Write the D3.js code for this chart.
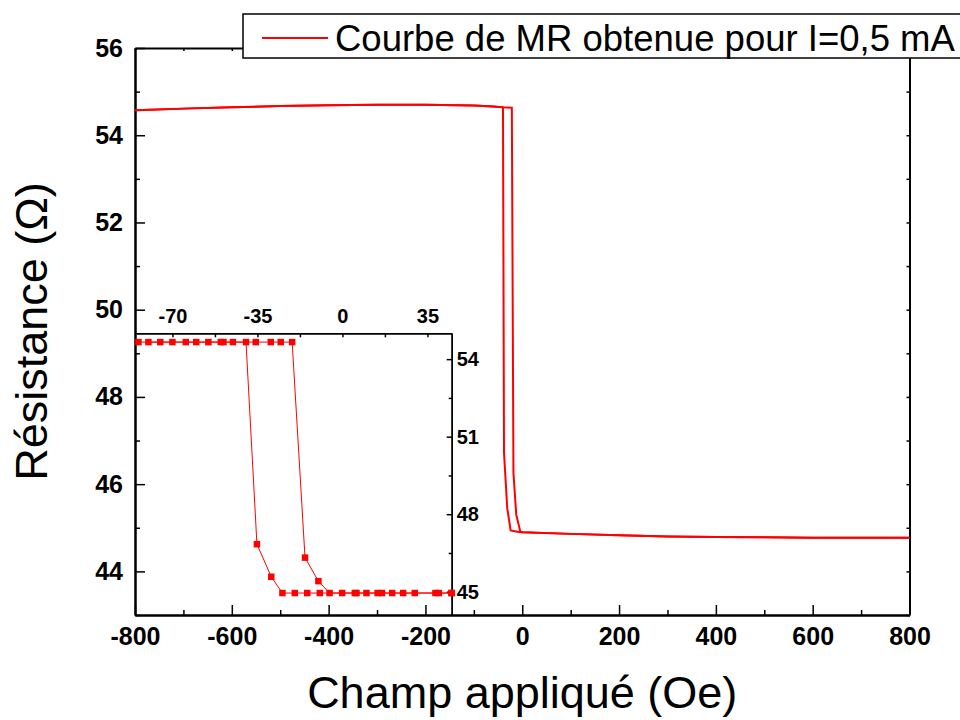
<!DOCTYPE html>
<html>
<head>
<meta charset="utf-8">
<script src="https://cdn.jsdelivr.net/npm/d3@7"></script>
<style>
  body { margin: 0; background: #fff; }
  svg { font-family: "Liberation Sans", Arial, sans-serif; }
</style>
</head>
<body>
<div id="chart"></div>
<script>
// ---- data ----
// main loop, branch that switches near -40 Oe
const fieldA = [-800, -700, -600, -500, -400, -300, -200, -100, -60, -39.8, -37.7, -31, -24, -10, 0, 100, 200, 300, 400, 500, 600, 700, 800];
const resA   = [54.57, 54.61, 54.64, 54.67, 54.69, 54.70, 54.70, 54.68, 54.66, 54.64, 46.72, 45.45, 44.94, 44.91, 44.90, 44.86, 44.83, 44.80, 44.79, 44.78, 44.77, 44.77, 44.77];
// main loop, branch that switches near -21 Oe
const fieldB = [-800, -700, -600, -500, -400, -300, -200, -100, -60, -40, -21.5, -18.2, -12.4, -4, 0, 100, 200, 300, 400, 500, 600, 700, 800];
const resB   = [54.57, 54.61, 54.64, 54.67, 54.69, 54.70, 54.70, 54.68, 54.66, 54.64, 54.63, 46.26, 45.30, 44.91, 44.90, 44.86, 44.83, 44.80, 44.79, 44.78, 44.77, 44.77, 44.77];

// inset (zoom on the switching), measured points
const insetFieldA = [-84, -75, -64.5, -55.2, -45.1, -39.7, -35.2, -29.3, -24.7, -19.6, -14.5, -9.3, -0.1, 9.9, 20.5, 29.8, 39.7, 45];
const insetResA   = [54.66, 54.66, 54.66, 54.66, 54.66, 54.66, 46.84, 45.58, 44.95, 44.95, 44.95, 44.95, 44.95, 44.95, 44.95, 44.95, 44.95, 44.95];
const insetFieldB = [-79.9, -70, -60.2, -50.1, -49, -35.7, -29.5, -25.4, -20.7, -15.4, -9.9, -5.3, 5.1, 5.8, 14.5, 16.3, 25, 38.3, 44.9];
const insetResB   = [54.66, 54.66, 54.66, 54.66, 54.66, 54.66, 54.66, 54.66, 54.66, 46.32, 45.41, 44.95, 44.95, 44.95, 44.95, 44.95, 44.95, 44.95, 44.95];

// ticks
const xMajor = [-800, -600, -400, -200, 0, 200, 400, 600, 800];
const xMinor = [-700, -500, -300, -100, 100, 300, 500, 700];
const yMajor = [44, 46, 48, 50, 52, 54, 56];
const yMinor = [43, 45, 47, 49, 51, 53, 55];
const insetXMajor = [-70, -35, 0, 35];
const insetXMinor = [-52.5, -17.5, 17.5];
const insetYMajor = [45, 48, 51, 54];
const insetYMinor = [46.5, 49.5, 52.5];

const legendLabel = "Courbe de MR obtenue pour I=0,5 mA";
const xTitle = "Champ appliqué (Oe)";
const yTitle = "Résistance (Ω)";

// ---- layout ----
const W = 960, H = 720;
const plot = {left: 135, right: 909.5, top: 48, bottom: 615};
const inset = {left: 136, right: 451.7, top: 333.3, bottom: 615};
const red = "#ff0000";

const svg = d3.select("#chart").append("svg")
    .attr("width", W)
    .attr("height", H);

const x = d3.scaleLinear().domain([-800, 800]).range([plot.left, plot.right]);
const y = d3.scaleLinear().domain([43, 56]).range([plot.bottom, plot.top]);

function styleAxis(g, w, fs) {
    g.select(".domain").attr("stroke-width", w);
    g.selectAll(".tick line").attr("stroke-width", 1.5);
    g.selectAll(".tick text")
        .attr("font-size", fs)
        .attr("font-weight", "bold")
        .attr("font-family", "Liberation Sans, Arial, sans-serif")
        .attr("fill", "#000");
}

// bottom axis (minor then major)
svg.append("g")
    .attr("transform", `translate(0,${plot.bottom})`)
    .call(d3.axisBottom(x).tickValues(xMinor).tickSize(-5).tickSizeOuter(0).tickFormat(""))
    .call(g => styleAxis(g, 2, 25));
svg.append("g")
    .attr("transform", `translate(0,${plot.bottom})`)
    .call(d3.axisBottom(x).tickValues(xMajor).tickSize(-10).tickSizeOuter(0).tickPadding(12).tickFormat(d => String(d)))
    .call(g => styleAxis(g, 2, 25));

// left axis
svg.append("g")
    .attr("transform", `translate(${plot.left},0)`)
    .call(d3.axisLeft(y).tickValues(yMinor).tickSize(-5).tickSizeOuter(0).tickFormat(""))
    .call(g => styleAxis(g, 2, 25));
svg.append("g")
    .attr("transform", `translate(${plot.left},0)`)
    .call(d3.axisLeft(y).tickValues(yMajor).tickSize(-10).tickSizeOuter(0).tickPadding(12).tickFormat(d => String(d)))
    .call(g => styleAxis(g, 2, 25));

// top and right mirror axes, small ticks, no labels
svg.append("g")
    .attr("transform", `translate(0,${plot.top})`)
    .call(d3.axisTop(x).tickValues(xMajor.concat(xMinor)).tickSize(-3).tickSizeOuter(0).tickFormat(""))
    .call(g => styleAxis(g, 2, 25));
svg.append("g")
    .attr("transform", `translate(${plot.right},0)`)
    .call(d3.axisRight(y).tickValues(yMajor.concat(yMinor)).tickSize(-3).tickSizeOuter(0).tickFormat(""))
    .call(g => styleAxis(g, 2, 25));

// main curve
const line = d3.line().x(d => x(d[0])).y(d => y(d[1]));
svg.append("path")
    .datum(d3.zip(fieldA, resA))
    .attr("fill", "none")
    .attr("stroke", red)
    .attr("stroke-width", 2)
    .attr("d", line);
svg.append("path")
    .datum(d3.zip(fieldB, resB))
    .attr("fill", "none")
    .attr("stroke", red)
    .attr("stroke-width", 2)
    .attr("d", line);

// ---- inset ----
const xi = d3.scaleLinear().domain([-85, 45]).range([inset.left, inset.right]);
const yi = d3.scaleLinear().domain([44.1, 55]).range([inset.bottom, inset.top]);

svg.append("g")
    .attr("transform", `translate(0,${inset.top})`)
    .call(d3.axisTop(xi).tickValues(insetXMinor).tickSize(-4).tickSizeOuter(0).tickFormat(""))
    .call(g => styleAxis(g, 1.5, 20));
svg.append("g")
    .attr("transform", `translate(0,${inset.top})`)
    .call(d3.axisTop(xi).tickValues(insetXMajor).tickSize(-4).tickSizeOuter(0).tickPadding(10).tickFormat(d => String(d)))
    .call(g => styleAxis(g, 1.5, 20));
svg.append("g")
    .attr("transform", `translate(${inset.right},0)`)
    .call(d3.axisRight(yi).tickValues(insetYMinor).tickSize(-3).tickSizeOuter(0).tickFormat(""))
    .call(g => styleAxis(g, 1.5, 20));
svg.append("g")
    .attr("transform", `translate(${inset.right},0)`)
    .call(d3.axisRight(yi).tickValues(insetYMajor).tickSize(-5).tickSizeOuter(0).tickPadding(5).tickFormat(d => String(d)))
    .call(g => styleAxis(g, 1.5, 20));

const lineIn = d3.line().x(d => xi(d[0])).y(d => yi(d[1]));
[d3.zip(insetFieldA, insetResA), d3.zip(insetFieldB, insetResB)].forEach(pts => {
    svg.append("path")
        .datum(pts)
        .attr("fill", "none")
        .attr("stroke", red)
        .attr("stroke-width", 1)
        .attr("d", lineIn);
    svg.append("g")
        .selectAll("rect")
        .data(pts)
        .join("rect")
        .attr("x", d => xi(d[0]) - 3.25)
        .attr("y", d => yi(d[1]) - 3.25)
        .attr("width", 6.5)
        .attr("height", 6.5)
        .attr("fill", red);
});

// ---- legend ----
svg.append("rect")
    .attr("x", 243).attr("y", 14)
    .attr("width", 740).attr("height", 44)
    .attr("fill", "#fff")
    .attr("stroke", "#000")
    .attr("stroke-width", 1.5);
svg.append("line")
    .attr("x1", 262).attr("x2", 328)
    .attr("y1", 38).attr("y2", 38)
    .attr("stroke", red)
    .attr("stroke-width", 2);
svg.append("text")
    .attr("x", 335).attr("y", 51)
    .attr("font-size", 36.5)
    .text(legendLabel);

// ---- axis titles ----
svg.append("text")
    .attr("x", (plot.left + plot.right) / 2)
    .attr("y", 708)
    .attr("text-anchor", "middle")
    .attr("font-size", 45)
    .text(xTitle);
svg.append("text")
    .attr("transform", `translate(47,${(plot.top + plot.bottom) / 2}) rotate(-90)`)
    .attr("text-anchor", "middle")
    .attr("font-size", 45)
    .text(yTitle);
</script>
</body>
</html>
